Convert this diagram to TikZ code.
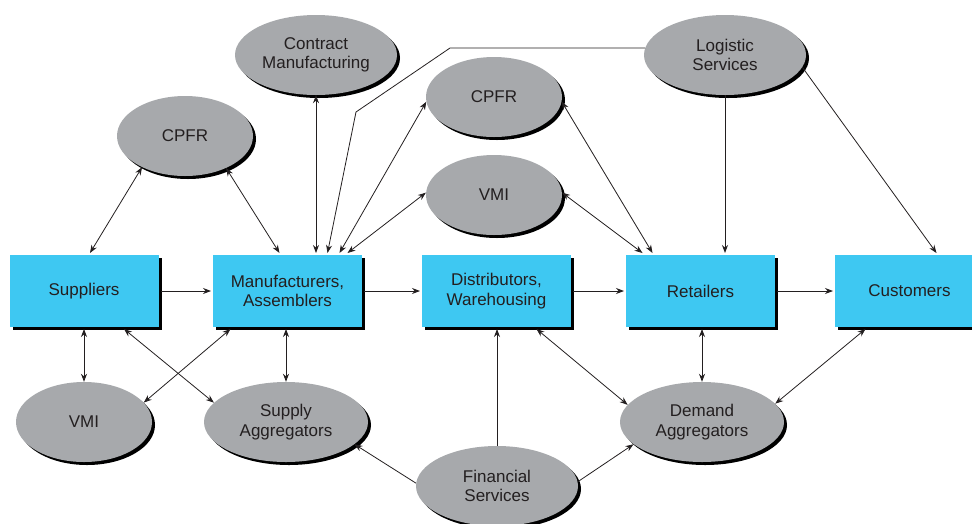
\documentclass[tikz,border=0pt]{standalone}
\usepackage{fontspec}
\setmainfont{Liberation Sans}
\usetikzlibrary{shapes.geometric,shadows,arrows.meta}
\definecolor{stageblue}{RGB}{62,200,242}
\definecolor{ovalgray}{RGB}{167,169,172}
\definecolor{inkgray}{RGB}{35,31,32}

\begin{document}
\begin{tikzpicture}[x=1pt,y=-1pt,
  >={Stealth[length=8pt,width=6pt]},
  stage/.style={rectangle, fill=stageblue, minimum width=149pt, minimum height=72pt,
    inner sep=0pt, outer sep=2pt, align=center, text=inkgray,
    font=\fontsize{17}{19.5}\selectfont,
    drop shadow={shadow xshift=3pt, shadow yshift=-3pt, fill=black, opacity=1}},
  oval/.style={ellipse, fill=ovalgray, minimum height=80pt, inner sep=0pt,
    align=center, text=inkgray, font=\fontsize{17}{19.5}\selectfont,
    drop shadow={shadow xshift=3pt, shadow yshift=-3pt, fill=black, opacity=1}},
  link/.style={draw, line width=0.8pt, inkgray}]
\useasboundingbox (0,0) rectangle (972,523);
\clip (0,0) rectangle (972,523);

% stages of the chain
\node[stage] (sup) at (84,291) {Suppliers};
\node[stage] (man) at (287.5,291) {Manufacturers,\\Assemblers};
\node[stage] (dis) at (496.5,291) {Distributors,\\Warehousing};
\node[stage] (ret) at (700.5,291) {Retailers};
\node[stage] (cus) at (909.5,291) {Customers};

% services
\node[oval, minimum width=162pt] (cm) at (316,55) {Contract\\Manufacturing};
\node[oval, minimum width=136pt] (cpfrA) at (185,136) {CPFR};
\node[oval, minimum width=136pt] (cpfrB) at (494,97) {CPFR};
\node[oval, minimum width=136pt] (vmiA) at (494,195) {VMI};
\node[oval, minimum width=162pt] (log) at (725,55) {Logistic\\Services};
\node[oval, minimum width=136pt] (vmiB) at (84,422) {VMI};
\node[oval, minimum width=164pt] (supag) at (286,422) {Supply\\Aggregators};
\node[oval, minimum width=164pt] (demag) at (702,422) {Demand\\Aggregators};
\node[oval, minimum width=162pt] (fin) at (497,486) {Financial\\Services};

\coordinate (bendA) at (450,48);
\coordinate (bendB) at (356,112);

% main flow
\path[link,->] (sup) -- (man);
\path[link,->] (man) -- (dis);
\path[link,->] (dis) -- (ret);
\path[link,->] (ret) -- (cus);

% upper links
\path[link,<->] (cpfrA.216) -- ([xshift=6pt]sup.north);
\path[link,<->] (cpfrA.322) -- ([xshift=-8pt]man.north);
\path[link,<->] (cm.south) -- (cm.south |- man.north);
\path[link,->] (log.175) -- (log.175 -| bendA) -- (bendB) -- ([xshift=40pt]man.north);
\path[link,<->] (cpfrB.184) -- ([xshift=52pt]man.north);
\path[link,<->] (vmiA.178) -- ([xshift=60pt]man.north);
\path[link,<->] (cpfrB.356) -- ([xshift=-48pt]ret.north);
\path[link,<->] (vmiA.2) -- ([xshift=-58pt]ret.north);
\path[link,->] (log.south) -- (log.south |- ret.north);
\path[link,->] (log.351) -- ([xshift=27pt]cus.north);

% lower links
\path[link,<->] (sup.south) -- (sup.south |- vmiB.north);
\path[link,<->] ([xshift=40pt]sup.south) -- (supag.165);
\path[link,<->] ([xshift=-57pt]man.south) -- (vmiB.18);
\path[link,<->] (supag.north) -- (supag.north |- man.south);
\path[link,->] (fin.178) -- (supag.342);
\path[link,->] (fin.north) -- (fin.north |- dis.south);
\path[link,<->] ([xshift=40pt]dis.south) -- (demag.167);
\path[link,->] (fin.3) -- (demag.198);
\path[link,<->] (demag.north) -- (demag.north |- ret.south);
\path[link,<->] ([xshift=-44pt]cus.south) -- (demag.14);
\end{tikzpicture}
\end{document}
